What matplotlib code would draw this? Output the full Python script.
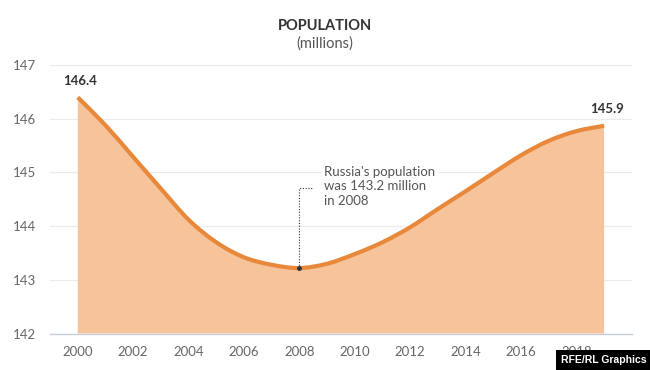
import matplotlib
matplotlib.use('Agg')
import matplotlib.pyplot as plt
from matplotlib.path import Path
from matplotlib.patches import PathPatch

plt.rcParams['font.family'] = ['Lato', 'DejaVu Sans']

years = list(range(2000, 2020))
population = [146.4, 145.88, 145.29, 144.7, 144.12, 143.7, 143.42, 143.28, 143.22, 143.3,
              143.48, 143.7, 143.98, 144.32, 144.65, 144.99, 145.32, 145.59, 145.77, 145.87]
x_ticks = list(range(2000, 2019, 2))
y_ticks = [142, 143, 144, 145, 146, 147]
note = "Russia's population\nwas 143.2 million\nin 2008"

LINE = '#e8883a'
FILL = '#f6c39b'
GREY = '#666666'
BASE = 142


def smooth_verts(xs, ys):
    # cubic bezier segments through every point (catmull-rom style handles)
    n = len(xs)
    verts = [(xs[0], ys[0])]
    codes = [Path.MOVETO]
    for i in range(n - 1):
        p0 = max(i - 1, 0)
        p3 = min(i + 2, n - 1)
        c1 = (xs[i] + (xs[i + 1] - xs[p0]) / 6, ys[i] + (ys[i + 1] - ys[p0]) / 6)
        c2 = (xs[i + 1] - (xs[p3] - xs[i]) / 6, ys[i + 1] - (ys[p3] - ys[i]) / 6)
        verts += [c1, c2, (xs[i + 1], ys[i + 1])]
        codes += [Path.CURVE4] * 3
    return verts, codes


fig = plt.figure(figsize=(6.5, 3.7), dpi=100)
ax = fig.add_axes([0.077, 0.0986, 0.895, 0.7254])
ax.set_axisbelow(True)

verts, codes = smooth_verts(years, population)
fill_verts = verts + [(years[-1], BASE), (years[0], BASE), verts[0]]
fill_codes = codes + [Path.LINETO, Path.LINETO, Path.CLOSEPOLY]
ax.add_patch(PathPatch(Path(fill_verts, fill_codes), facecolor=FILL, edgecolor='none', zorder=1))
ax.add_patch(PathPatch(Path(verts, codes), facecolor='none', edgecolor=LINE, lw=3,
                       capstyle='butt', zorder=3))

ax.set_xlim(1999.0, 2020.0)
ax.set_ylim(142, 147)
ax.set_xticks(x_ticks)
ax.set_yticks(y_ticks)
ax.tick_params(length=0, colors=GREY, labelsize=9.5)
ax.tick_params(axis='x', pad=9)
ax.tick_params(axis='y', pad=10)
ax.grid(axis='y', color='#ebebeb', lw=0.8)
for s in ['top', 'right', 'left']:
    ax.spines[s].set_visible(False)
ax.spines['bottom'].set_color('#c9ced8')
ax.spines['bottom'].set_linewidth(1)
ax.spines['bottom'].set_zorder(2)

# end labels
ax.text(years[0] + 0.1, population[0] + 0.2, f'{population[0]:.1f}', ha='center', va='bottom',
        fontsize=9.5, fontweight='bold', color='#333333')
ax.text(years[-1] + 0.1, population[-1] + 0.2, f'{population[-1]:.1f}', ha='center', va='bottom',
        fontsize=9.5, fontweight='bold', color='#333333')

# annotation for 2008 minimum
i08 = years.index(2008)
ax.plot([2008, 2008, 2008.5], [population[i08], 144.72, 144.72], color='#333333', lw=0.8,
        ls=(0, (1, 1.5)), zorder=4)
ax.plot(2008, population[i08], 'o', color='#333333', ms=2.5, zorder=5)
ax.text(2008.9, 145.13, note, ha='left', va='top', fontsize=9.5, color='#555555',
        linespacing=1.25, zorder=2.5,
        bbox=dict(facecolor='white', edgecolor='none', pad=2))

fig.text(0.5, 0.93, 'POPULATION', ha='center', va='center', fontsize=10.5, fontweight='bold',
         color='#333333')
fig.text(0.5, 0.882, '(millions)', ha='center', va='center', fontsize=10.5, color='#555555')

fig.text(0.994, 0.027, 'RFE/RL Graphics', ha='right', va='center', fontsize=7.5, fontweight='bold',
         color='white', family=['Liberation Sans Narrow', 'Liberation Sans', 'DejaVu Sans'],
         bbox=dict(facecolor='black', edgecolor='none', pad=3.5))

fig.savefig('out.png', dpi=100)
